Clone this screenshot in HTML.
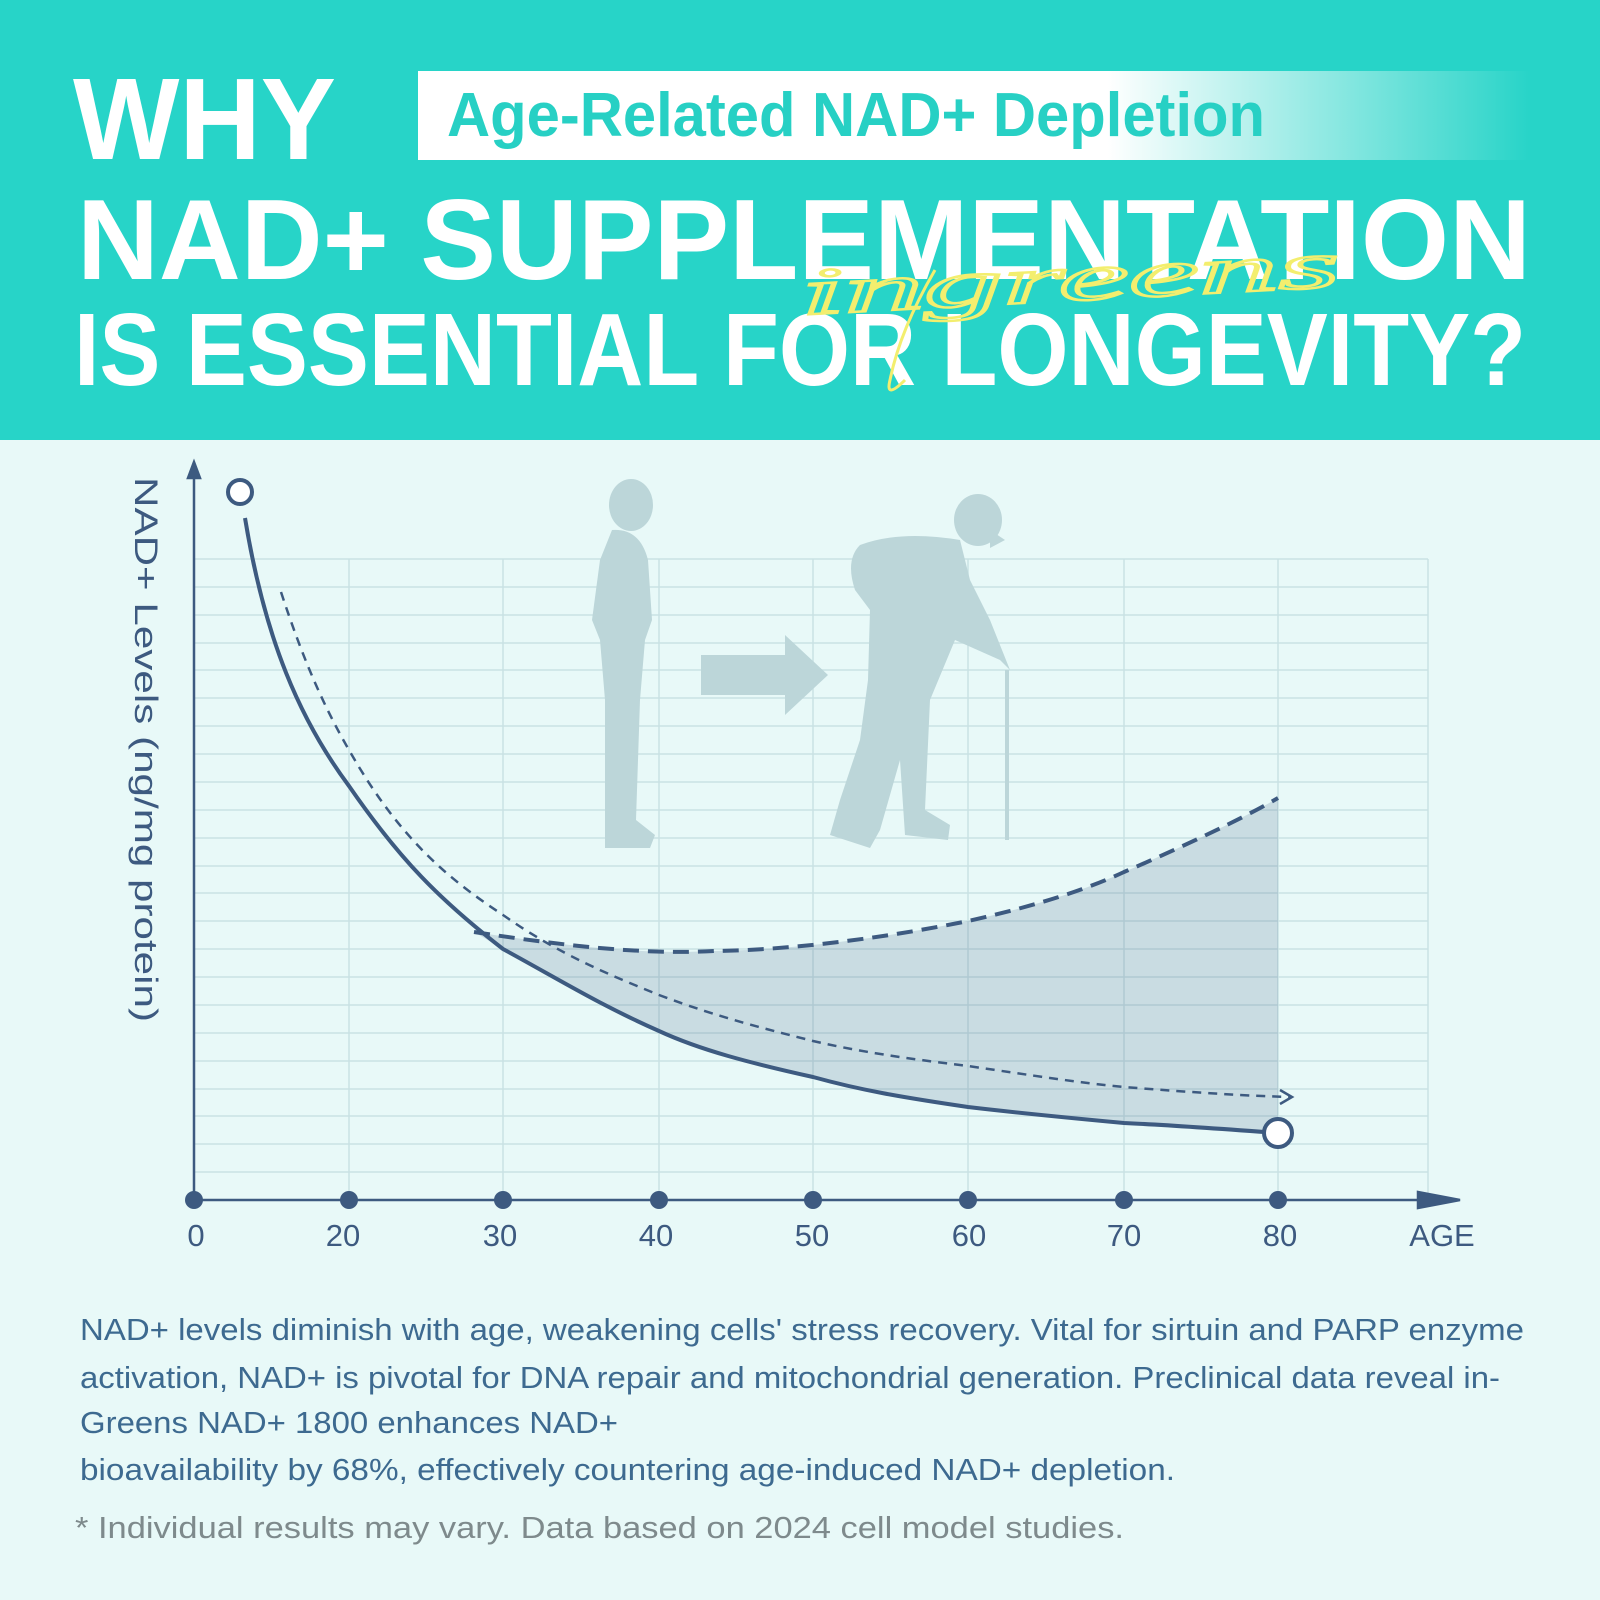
<!DOCTYPE html>
<html><head><meta charset="utf-8"><style>html,body{margin:0;padding:0;width:1600px;height:1600px;overflow:hidden;background:#e8f9f8}</style></head>
<body>
<svg width="1600" height="1600" viewBox="0 0 1600 1600" xmlns="http://www.w3.org/2000/svg" font-family="Liberation Sans, sans-serif">
<defs>
<linearGradient id="wg" x1="0" x2="1" y1="0" y2="0">
<stop offset="0" stop-color="#fff"/><stop offset="0.62" stop-color="#fff"/><stop offset="1" stop-color="#fff" stop-opacity="0"/>
</linearGradient>
</defs>
<rect x="0" y="0" width="1600" height="440" fill="#27d4c8"/>
<rect x="0" y="440" width="1600" height="1160" fill="#e8f9f8"/>
<rect x="418" y="71" width="1113" height="89" fill="url(#wg)"/>
<text x="447" y="136" font-size="62" font-weight="bold" fill="#27d0c4" textLength="818" lengthAdjust="spacingAndGlyphs">Age-Related NAD+ Depletion</text>
<g fill="#fff" font-weight="bold">
<text x="73" y="159" font-size="116" textLength="263" lengthAdjust="spacingAndGlyphs">WHY</text>
<text x="77" y="279" font-size="114" textLength="1454" lengthAdjust="spacingAndGlyphs">NAD+ SUPPLEMENTATION</text>
<text x="74" y="385" font-size="103" textLength="1452" lengthAdjust="spacingAndGlyphs">IS ESSENTIAL FOR LONGEVITY?</text>
</g>
<text x="800" y="300" font-size="66" font-style="italic" font-family="Liberation Serif, serif" fill="none" stroke="#f3ee6e" stroke-width="2.5" textLength="540" lengthAdjust="spacingAndGlyphs" transform="rotate(-3 1080 280)">ingreens</text>
<path d="M935 270 Q900 330 890 380 Q885 400 905 380" fill="none" stroke="#f3ee6e" stroke-width="3"/>

<g stroke="#c9e2e4" stroke-width="1.5">
<line x1="349" y1="559" x2="349" y2="1200"/><line x1="503" y1="559" x2="503" y2="1200"/><line x1="659" y1="559" x2="659" y2="1200"/><line x1="813" y1="559" x2="813" y2="1200"/><line x1="968" y1="559" x2="968" y2="1200"/><line x1="1124" y1="559" x2="1124" y2="1200"/><line x1="1278" y1="559" x2="1278" y2="1200"/><line x1="1428" y1="559" x2="1428" y2="1200"/>
</g>
<path stroke="#c9e2e4" stroke-width="1.5" d="M194 559H1428M194 587H1428M194 615H1428M194 643H1428M194 670H1428M194 698H1428M194 726H1428M194 754H1428M194 782H1428M194 810H1428M194 838H1428M194 866H1428M194 893H1428M194 921H1428M194 949H1428M194 977H1428M194 1005H1428M194 1033H1428M194 1061H1428M194 1089H1428M194 1116H1428M194 1144H1428M194 1172H1428"/>

<g fill="#bcd6d9">
<ellipse cx="631" cy="505" rx="22" ry="26"/>
<path d="M612 530 Q640 528 648 560 L652 620 L645 640 L640 700 L636 820 L655 835 L650 848 L605 848 L605 700 L600 640 L592 620 L600 560 Z"/>
<path d="M701 655 L785 655 L785 635 L828 675 L785 715 L785 695 L701 695 Z"/>
<ellipse cx="978" cy="520" rx="24" ry="26"/>
<path d="M990 530 L1005 540 L990 548 Z"/>
<path d="M960 540 Q900 530 860 545 Q845 560 855 590 L870 610 L868 680 L860 740 L840 800 L830 835 L870 848 L880 830 L900 760 L905 835 L948 840 L950 825 L925 810 L930 700 L955 640 L1000 660 L1010 670 L990 620 L970 580 Z"/>
<rect x="1005" y="670" width="4" height="170"/>
</g>

<path d="M474 932 C560 945 640 955 714 951 C800 950 900 935 968 921 C1040 905 1090 888 1124 872 C1180 848 1240 820 1278 798 L1278 1133 C1210 1128 1170 1125 1124 1123 C1060 1117 1010 1112 968 1107 C900 1097 860 1090 813 1077 C750 1063 700 1050 659 1031 C600 1005 560 980 503 949 Z" fill="#3d5a80" fill-opacity="0.18"/>

<g stroke="#3d5a80" stroke-width="2.5" fill="#3d5a80">
<line x1="194" y1="475" x2="194" y2="1200"/>
<path d="M194 462 L188 478 L200 478 Z"/>
<line x1="194" y1="1200" x2="1420" y2="1200"/>
<path d="M1460 1200 L1418 1192 L1418 1208 Z"/>
</g>
<g fill="#3d5a80">
<circle cx="194" cy="1200" r="9"/><circle cx="349" cy="1200" r="9"/><circle cx="503" cy="1200" r="9"/><circle cx="659" cy="1200" r="9"/><circle cx="813" cy="1200" r="9"/><circle cx="968" cy="1200" r="9"/><circle cx="1124" cy="1200" r="9"/><circle cx="1278" cy="1200" r="9"/>
</g>
<g fill="#3d5a80" font-size="31" text-anchor="middle">
<text x="196" y="1246">0</text><text x="343" y="1246">20</text><text x="500" y="1246">30</text><text x="656" y="1246">40</text><text x="812" y="1246">50</text><text x="969" y="1246">60</text><text x="1124" y="1246">70</text><text x="1280" y="1246">80</text><text x="1442" y="1246">AGE</text>
</g>
<text transform="translate(135 477) rotate(90)" font-size="32" fill="#3d5a80" textLength="545" lengthAdjust="spacingAndGlyphs">NAD+ Levels (ng/mg protein)</text>

<path d="M281 592 C300 650 320 700 349 750 C400 840 450 880 503 915 C560 955 610 975 659 995 C720 1018 770 1030 813 1041 C870 1054 920 1060 968 1066 C1030 1075 1080 1083 1124 1087 C1200 1093 1250 1096 1291 1097" fill="none" stroke="#3d5a80" stroke-width="2.5" stroke-dasharray="9 7"/>
<path d="M1280 1090 L1292 1097 L1280 1104" fill="none" stroke="#3d5a80" stroke-width="2.5"/>
<path d="M474 932 C560 945 640 955 714 951 C800 950 900 935 968 921 C1040 905 1090 888 1124 872 C1180 848 1240 820 1278 798" fill="none" stroke="#3d5a80" stroke-width="4" stroke-dasharray="16 9"/>
<path d="M245 518 C265 640 300 720 349 786 C400 860 440 900 503 949 C560 980 600 1005 659 1031 C700 1050 750 1063 813 1077 C860 1090 900 1097 968 1107 C1010 1112 1060 1117 1124 1123 C1170 1125 1210 1128 1278 1133" fill="none" stroke="#3d5a80" stroke-width="4"/>
<circle cx="240" cy="492" r="12" fill="#fff" stroke="#3d5a80" stroke-width="4"/>
<circle cx="1278" cy="1133" r="14" fill="#fff" stroke="#3d5a80" stroke-width="4"/>

<g fill="#3d6a90" font-size="31">
<text x="80" y="1340" textLength="1444" lengthAdjust="spacingAndGlyphs">NAD+ levels diminish with age, weakening cells' stress recovery. Vital for sirtuin and PARP enzyme</text>
<text x="80" y="1388" textLength="1420" lengthAdjust="spacingAndGlyphs">activation, NAD+ is pivotal for DNA repair and mitochondrial generation. Preclinical data reveal in-</text>
<text x="80" y="1433" textLength="538" lengthAdjust="spacingAndGlyphs">Greens NAD+ 1800 enhances NAD+</text>
<text x="80" y="1480" textLength="1095" lengthAdjust="spacingAndGlyphs">bioavailability by 68%, effectively countering age-induced NAD+ depletion.</text>
</g>
<text x="75" y="1538" font-size="31" fill="#7e8a8c" textLength="1049" lengthAdjust="spacingAndGlyphs">* Individual results may vary. Data based on 2024 cell model studies.</text>
</svg>
</body></html>
